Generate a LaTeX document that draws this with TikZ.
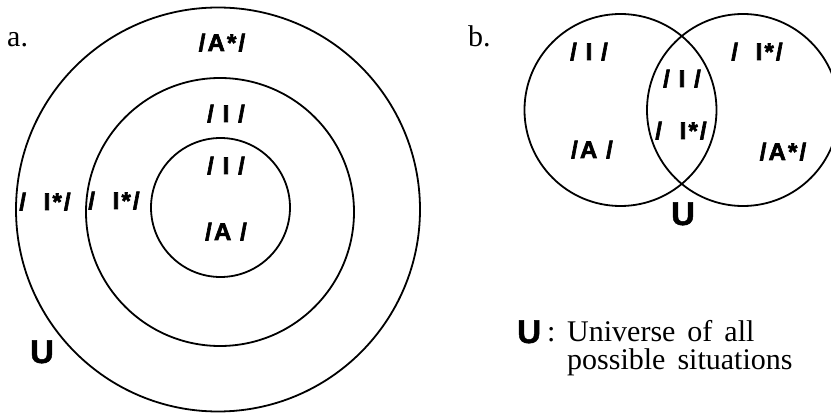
\documentclass[tikz,border=0pt]{standalone}
\usepackage{fontspec}
\setmainfont{Liberation Serif}
\newfontfamily\labfont[LetterSpace=9,FakeBold=2.5]{Liberation Sans Bold}
\newfontfamily\ufont[FakeBold=1.5]{Liberation Sans Bold}
\newcommand\wsp{\hspace{0.4em}}
\tikzset{
  circ/.style={line width=1.8pt},
  lbl/.style={font=\labfont\fontsize{24}{24}\selectfont, inner sep=0pt, anchor=base},
  bigu/.style={font=\ufont\fontsize{33}{33}\selectfont, inner sep=0pt, anchor=base},
  ser/.style={font=\fontsize{30}{30}\selectfont, inner sep=0pt, anchor=base west},
}
\begin{document}
\begin{tikzpicture}[x=1pt,y=-1pt]
\useasboundingbox (0,0) rectangle (831,414);
% panel a
\draw[circ] (218,209.5) circle[radius=202];
\draw[circ] (220,212) circle[radius=134];
\draw[circ] (220.5,207.5) circle[radius=69.5];
\node[ser] (la) at (7,47) {a.};
\node[lbl] (a1) at (222,51) {/A*/};
\node[lbl] (a2) at (226,122) {/ I /};
\node[lbl] (a3) at (226,174) {/ I /};
\node[lbl] (a4) at (226,240) {/A /};
\node[lbl] (a5) at (45,210) {/\ \ I*/};
\node[lbl] (a6) at (114,209) {/\ \ I*/};
\node[bigu] (ua) at (42,363) {U};
% panel b
\draw[circ] (620.5,110) circle[radius=96];
\draw[circ] (743,110) circle[radius=96];
\node[ser] (lb) at (468,47) {b.};
\node[lbl] (b1) at (589,60) {/ I /};
\node[lbl] (b2) at (757,60) {/\ \ I*/};
\node[lbl] (b3) at (682,87) {/ I /};
\node[lbl] (b4) at (681,139) {/\ \ I*/};
\node[lbl] (b5) at (592,158) {/A /};
\node[lbl] (b6) at (783,160) {/A*/};
\node[bigu] (ub) at (683,225) {U};
% legend
\node[bigu, anchor=base west] (ul) at (517,343) {U};
\node[ser] (col) at (547,342) {:};
\node[ser] (t1) at (567,342) {Universe\wsp of\wsp all};
\node[ser] (t2) at (567,370) {possible\wsp situations};
\end{tikzpicture}
\end{document}
